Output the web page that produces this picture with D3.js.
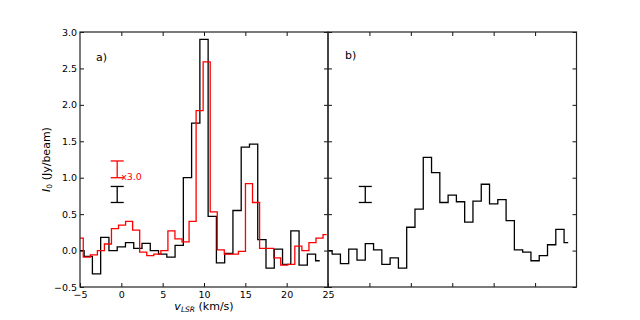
<!DOCTYPE html>
<html>
<head>
<meta charset="utf-8">
<script src="https://cdn.jsdelivr.net/npm/d3@7"></script>
<style>
  body { margin: 0; background: #fff; }
  svg text { font-family: "DejaVu Sans", sans-serif; }
</style>
</head>
<body>
<div id="chart"></div>
<script>
let width = 640;
let height = 320;

// panel a), black spectrum: channel velocities (km/s) and flux (Jy/beam)
let vel_a = [-5, -4, -3, -2, -1, 0, 1, 2, 3, 4, 5, 6, 7, 8, 9, 10, 11, 12, 13, 14,
             15, 16, 17, 18, 19, 20, 21, 22, 23, 24];
let flux_a = [0.0, -0.08, -0.32, 0.18, 0.0, 0.05, 0.11, 0.03, 0.10, 0.0, -0.05, -0.09, 0.07, 1.0, 1.75, 2.9, 0.47, -0.17, -0.04, 0.55,
              1.42, 1.46, 0.15, -0.24, 0.02, -0.19, 0.27, -0.20, -0.05, -0.14];

// panel a), red spectrum (shown x3.0)
let vel_red = [-5.03, -4.18, -3.32, -2.47, -1.62, -0.77, 0.09, 0.94, 1.79, 2.65, 3.50, 4.35, 5.21, 6.06, 6.91, 7.77, 8.62, 9.47,
               10.32, 11.18, 12.03, 12.88, 13.74, 14.59, 15.44, 16.30, 17.15, 18.00, 18.85, 19.71, 20.56, 21.41, 22.27, 23.12, 23.97, 24.83];
let flux_red = [0.17, -0.09, -0.06, 0.0, 0.09, 0.30, 0.35, 0.40, 0.28, -0.02, -0.07, -0.05, 0.0, 0.27, 0.16, 0.12, 0.40, 1.92,
                2.59, 0.53, 0.01, -0.05, -0.05, -0.01, 0.92, 0.66, 0.03, 0.03, -0.10, -0.20, -0.19, 0.06, 0.0, 0.11, 0.17, 0.22];

// panel b), black spectrum
let vel_b = [-5, -4, -3, -2, -1, 0, 1, 2, 3, 4, 5, 6, 7, 8, 9, 10, 11, 12, 13, 14,
             15, 16, 17, 18, 19, 20, 21, 22, 23, 24];
let flux_b = [0.0, -0.05, -0.18, 0.02, -0.13, 0.095, 0.01, -0.19, -0.10, -0.24, 0.32, 0.57, 1.28, 1.07, 0.66, 0.76, 0.67, 0.39, 0.68, 0.91,
              0.64, 0.70, 0.41, 0.01, -0.02, -0.14, -0.07, 0.08, 0.29, 0.11];

// error bars: [velocity, centre, half length]
let err_red = [-0.5, 1.115, 0.115];
let err_a = [-0.5, 0.77, 0.11];
let err_b = [-0.5, 0.77, 0.11];

let x_ticks = [-5, 0, 5, 10, 15, 20, 25];
let x_ticks_inner = [0, 5, 10, 15, 20];
let y_ticks = [-0.5, 0.0, 0.5, 1.0, 1.5, 2.0, 2.5, 3.0];

let plot_top = 32, plot_bottom = 287;
let tick_len = 4;
let red = "#ff0000";

let svg = d3.select("#chart").append("svg")
    .attr("width", width)
    .attr("height", height);

let y = d3.scaleLinear().domain([-0.5, 3]).range([plot_bottom, plot_top]);
let xa = d3.scaleLinear().domain([-5, 25]).range([80, 328]);
let xb = d3.scaleLinear().domain([-5, 25]).range([328, 576.5]);

let fmt = d => d3.format(".1f")(d).replace("-", "\u2212");
let fmtx = d => String(d).replace("-", "\u2212");

function panel(x, id, labels) {
    let g = svg.append("g");
    let x0 = x.range()[0], x1 = x.range()[1];

    g.append("clipPath").attr("id", id)
        .append("rect")
        .attr("x", x0).attr("y", plot_top)
        .attr("width", x1 - x0).attr("height", plot_bottom - plot_top);

    // ticks all point inward
    let ax_b = g.append("g").attr("transform", "translate(0," + plot_bottom + ")")
        .call(d3.axisBottom(x).tickValues(labels ? x_ticks : x_ticks_inner)
            .tickSizeInner(-tick_len).tickSizeOuter(0).tickPadding(4)
            .tickFormat(labels ? fmtx : ""));
    let ax_t = g.append("g").attr("transform", "translate(0," + plot_top + ")")
        .call(d3.axisTop(x).tickValues(x_ticks_inner)
            .tickSizeInner(-tick_len).tickSizeOuter(0).tickFormat(""));
    let ax_l = g.append("g").attr("transform", "translate(" + x0 + ",0)")
        .call(d3.axisLeft(y).tickValues(y_ticks)
            .tickSizeInner(-tick_len).tickSizeOuter(0).tickPadding(3)
            .tickFormat(labels ? fmt : ""));
    let ax_r = g.append("g").attr("transform", "translate(" + x1 + ",0)")
        .call(d3.axisRight(y).tickValues(y_ticks)
            .tickSizeInner(-tick_len).tickSizeOuter(0).tickFormat(""));

    [ax_b, ax_t, ax_l, ax_r].forEach(a => {
        a.select(".domain").remove();
        a.selectAll("line").attr("stroke", "#111").attr("stroke-width", 1);
        a.selectAll("text").attr("fill", "#000").style("font-size", "9.5px")
            .style("font-family", "DejaVu Sans, sans-serif");
    });
    return g;
}

function step(g, x, vel, flux, color, clip) {
    let line = d3.line()
        .x((d, i) => x(vel[i]))
        .y(d => y(d))
        .curve(d3.curveStep);
    g.append("path")
        .datum(flux)
        .attr("clip-path", "url(#" + clip + ")")
        .attr("d", line)
        .attr("fill", "none")
        .attr("stroke", color)
        .attr("stroke-width", 1.3);
}

function errbar(g, x, e, color) {
    let cx = x(e[0]);
    let cap = 6.5;
    let y1 = y(e[1] + e[2]), y2 = y(e[1] - e[2]);
    g.append("line").attr("x1", cx).attr("x2", cx).attr("y1", y1).attr("y2", y2)
        .attr("stroke", color).attr("stroke-width", 1.3);
    [y1, y2].forEach(yy => {
        g.append("line").attr("x1", cx - cap).attr("x2", cx + cap).attr("y1", yy).attr("y2", yy)
            .attr("stroke", color).attr("stroke-width", 1.3);
    });
}

let ga = panel(xa, "clip-a", true);
let gb = panel(xb, "clip-b", false);

step(ga, xa, vel_a, flux_a, "#000", "clip-a");
step(ga, xa, vel_red, flux_red, red, "clip-a");
step(gb, xb, vel_b, flux_b, "#000", "clip-b");

errbar(ga, xa, err_red, red);
errbar(ga, xa, err_a, "#000");
errbar(gb, xb, err_b, "#000");

ga.append("text")
    .attr("x", xa(err_red[0]) + 4)
    .attr("y", y(err_red[1] - err_red[2]) + 2)
    .attr("fill", red)
    .style("font-size", "9.5px")
    .text("x3.0");

// frames
[xa, xb].forEach(x => {
    svg.append("rect")
        .attr("x", x.range()[0]).attr("y", plot_top)
        .attr("width", x.range()[1] - x.range()[0]).attr("height", plot_bottom - plot_top)
        .attr("fill", "none").attr("stroke", "#222").attr("stroke-width", 1.2);
});

svg.append("text").attr("x", 96).attr("y", 61).style("font-size", "11px").text("a)");
svg.append("text").attr("x", 345).attr("y", 59).style("font-size", "11px").text("b)");

// axis labels
let xl = svg.append("text")
    .attr("x", 204).attr("y", 310)
    .attr("text-anchor", "middle")
    .style("font-size", "11px");
xl.append("tspan").style("font-style", "italic").text("v");
xl.append("tspan").style("font-style", "italic").style("font-size", "7.5px").attr("dy", 2).text("LSR");
xl.append("tspan").attr("dy", -2).text(" (km/s)");

let yl = svg.append("text")
    .attr("transform", "translate(50," + ((plot_top + plot_bottom) / 2) + ") rotate(-90)")
    .attr("text-anchor", "middle")
    .style("font-size", "11px");
yl.append("tspan").style("font-style", "italic").text("I");
yl.append("tspan").style("font-size", "7.5px").attr("dy", 2).text("0");
yl.append("tspan").attr("dy", -2).text(" (Jy/beam)");
</script>
</body>
</html>
